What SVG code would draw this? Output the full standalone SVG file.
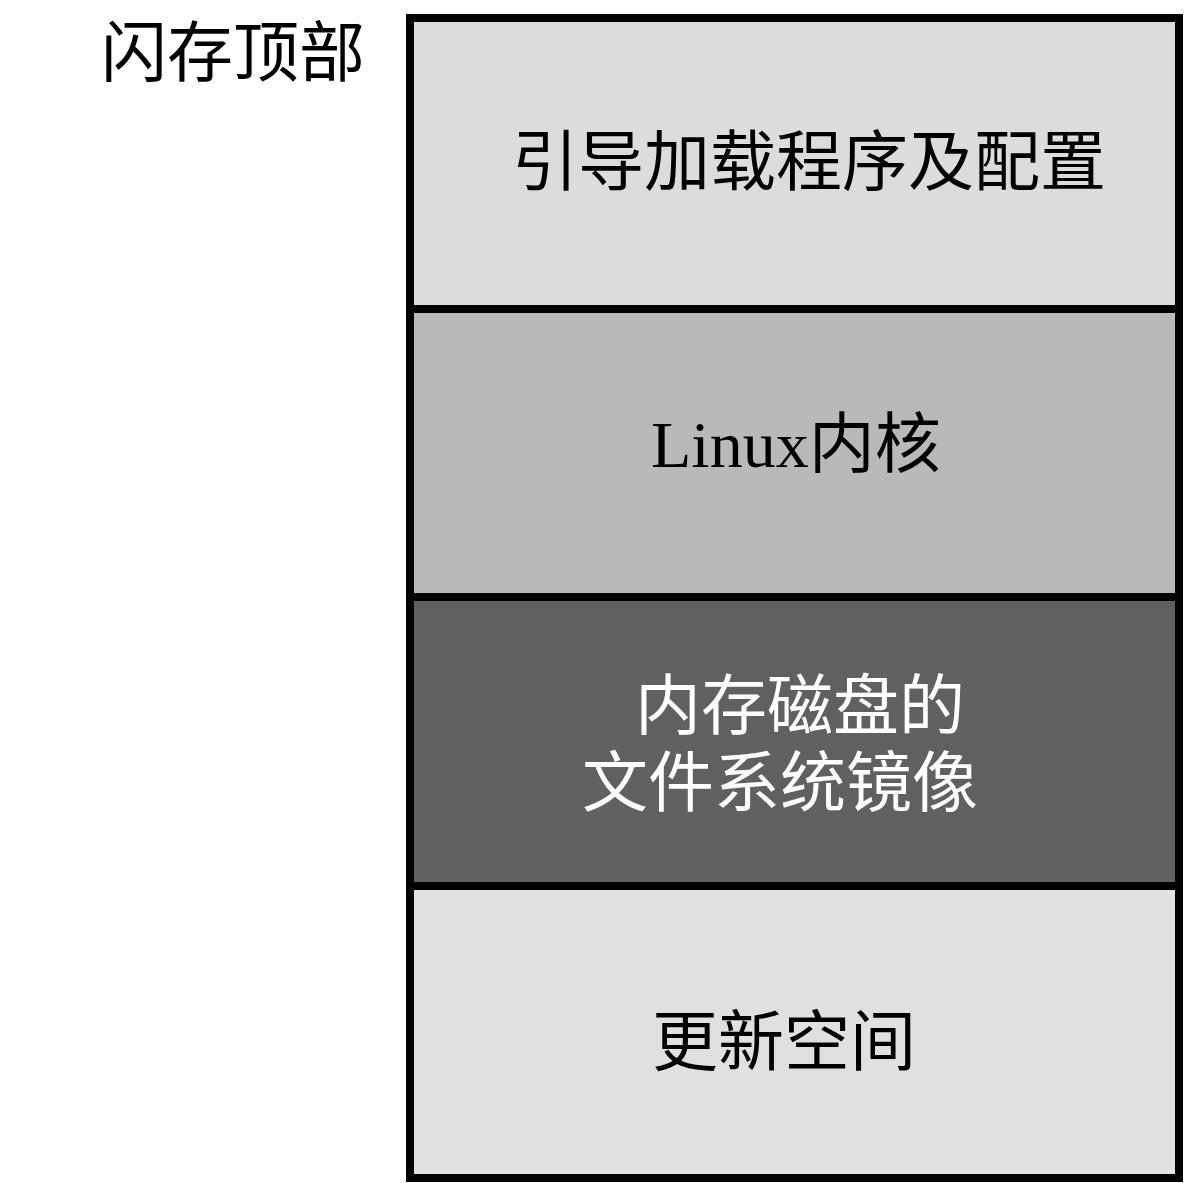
<svg xmlns="http://www.w3.org/2000/svg" width="1184" height="1183" viewBox="0 0 1184 1183">
<style>
.blk{stroke:#000;stroke-width:8}
.t{font-family:"Liberation Serif","Noto Sans CJK SC",serif;font-size:66px;fill:#000}
.w{fill:#fff}
</style>
<rect width="1184" height="1183" fill="#fff"/>
<g id="label-top"><text class="t" x="101" y="76">闪存顶部</text></g>
<g id="bootloader"><rect class="blk" x="410" y="18" width="769" height="291" fill="#dcdcdc"/><text class="t" x="512" y="185">引导加载程序及配置</text></g>
<g id="kernel"><rect class="blk" x="410" y="309" width="769" height="288" fill="#b9b9b9"/><text class="t" x="651" y="467">Linux内核</text></g>
<g id="ramdisk"><rect class="blk" x="410" y="597" width="769" height="289" fill="#606060"/><text class="t w" x="635" y="729">内存磁盘的</text><text class="t w" x="582" y="806">文件系统镜像</text></g>
<g id="update"><rect class="blk" x="410" y="886" width="769" height="292" fill="#e0e0e0"/><text class="t" x="652" y="1065">更新空间</text></g>
<g id="connectors"/>
</svg>
